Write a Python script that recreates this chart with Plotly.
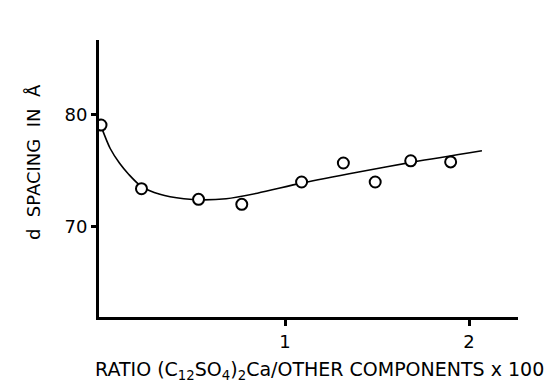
import plotly.graph_objects as go

# measured points
ratio = [0.0, 0.22, 0.53, 0.765, 1.09, 1.317, 1.49, 1.683, 1.90]
d_spacing = [79.1, 73.4, 72.45, 72.0, 74.0, 75.7, 74.0, 75.9, 75.8]

# smooth fitted curve
curve_x = [0.0, 0.05, 0.10, 0.15, 0.22, 0.32, 0.45, 0.55, 0.68, 0.85, 1.09, 1.40, 1.70, 2.07]
curve_y = [79.0, 77.0, 75.7, 74.7, 73.6, 72.9, 72.5, 72.4, 72.5, 73.0, 73.9, 74.9, 75.8, 76.8]

x_ticks = [1, 2]
y_ticks = [70, 80]

FONT = "DejaVu Sans, Liberation Sans, Arial, sans-serif"
SP = "\u00a0\u00a0"

# page body has an 8px margin: figure is offset by (8, 8)
OFF = 8
W, H = 558 - OFF, 386 - OFF
L, R, T, B = 99 - OFF, 40, 40 - OFF, 69
PW, PH = W - L - R, H - T - B

fig = go.Figure()
fig.add_trace(go.Scatter(x=curve_x, y=curve_y, mode="lines",
                         line=dict(color="black", width=1.6, shape="spline", smoothing=0.8),
                         hoverinfo="skip", showlegend=False))
fig.add_trace(go.Scatter(x=ratio, y=d_spacing, mode="markers",
                         marker=dict(symbol="circle", size=11, color="white",
                                     line=dict(color="black", width=2)),
                         showlegend=False))

fig.update_layout(
    width=W, height=H,
    margin=dict(l=L, r=R, t=T, b=B),
    paper_bgcolor="white", plot_bgcolor="white",
    font=dict(family=FONT, size=17, color="black"),
    xaxis=dict(range=[-0.0109, 2.266], tickvals=x_ticks, ticktext=[str(v) for v in x_ticks],
               showgrid=False, zeroline=False, showline=True, linecolor="black", linewidth=3,
               ticks="outside", ticklen=6, tickwidth=2.5, tickcolor="black",
               tickfont=dict(size=18, family=FONT)),
    yaxis=dict(range=[61.92, 86.71], tickvals=y_ticks, ticktext=[str(v) for v in y_ticks],
               showgrid=False, zeroline=False, showline=True, linecolor="black", linewidth=3,
               ticks="outside", ticklen=5, tickwidth=2.5, tickcolor="black",
               tickfont=dict(size=18, family=FONT)),
    annotations=[
        dict(text="d" + SP + "SPACING" + SP + "IN" + SP + "Å", textangle=-90,
             xref="paper", yref="paper",
             x=(33 - 99) / PW, y=(317 - 162) / PH, showarrow=False,
             xanchor="center", yanchor="middle",
             font=dict(size=18, family=FONT)),
        dict(text="RATIO (C<sub>12</sub>SO<sub>4</sub>)<sub>2</sub>Ca/OTHER COMPONENTS x 100",
             xref="paper", yref="paper", x=(319 - 99) / PW, y=-(370 - 317) / PH,
             showarrow=False, xanchor="center", yanchor="middle",
             font=dict(size=19, family=FONT)),
    ],
)

fig.write_html("out.html")
